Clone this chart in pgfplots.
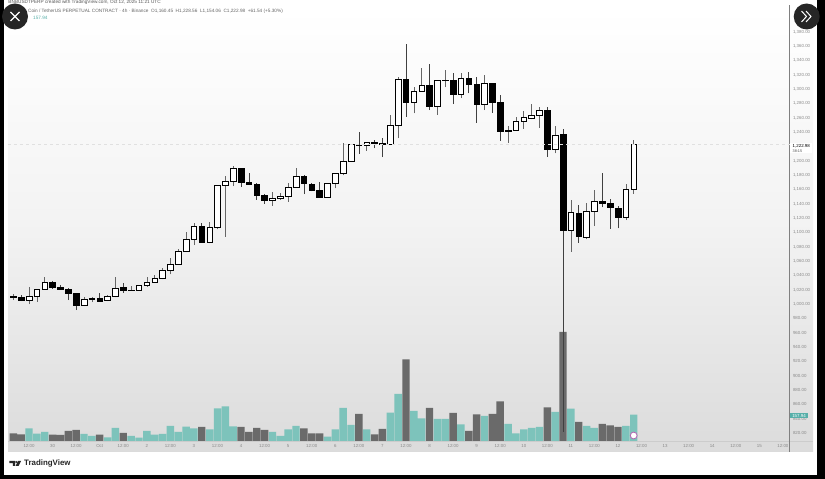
\documentclass[border=0pt]{standalone}
\usepackage{pgfplots}
\usepackage{pgfplotstable}
\usepackage{fontspec}
\setmainfont{Liberation Sans}
\pgfplotsset{compat=1.18}
\definecolor{teal1}{HTML}{7DC3BB}
\definecolor{dark1}{HTML}{6A6A6A}
\definecolor{txt}{HTML}{8A8A8A}
\pgfplotstableread{
i o h l c
0 1009.6 1014.1 1005.7 1010.2
1 1009.5 1012.7 1004.3 1004.7
2 1004.7 1024.3 1000.1 1010.3
3 1010.3 1021.1 1003.3 1020.6
4 1020.6 1037.4 1020.6 1030.4
5 1029.9 1032.7 1021.1 1022.9
6 1023.4 1027.1 1019.7 1020.1
7 1020.6 1022.0 1005.7 1014.5
8 1015.1 1015.9 991.7 998.3
9 997.7 1009.5 997.3 1007.1
10 1006.7 1010.3 1002.9 1007.5
11 1008.1 1015.9 1003.3 1004.3
12 1004.7 1012.7 1004.3 1010.3
13 1010.3 1037.4 1009.5 1022.5
14 1022.9 1029.0 1015.9 1019.2
15 1018.7 1025.7 1018.3 1019.2
16 1019.2 1026.7 1018.7 1025.7
17 1025.7 1038.2 1024.3 1030.4
18 1030.4 1040.6 1029.9 1036.0
19 1035.4 1050.8 1034.6 1047.2
20 1047.2 1063.9 1041.6 1055.6
21 1055.6 1076.9 1055.0 1073.7
22 1073.7 1100.2 1072.7 1090.5
23 1090.5 1112.8 1082.5 1108.6
24 1108.1 1112.8 1085.7 1086.3
25 1086.3 1115.0 1084.9 1107.2
26 1106.7 1166.3 1104.4 1165.9
27 1165.9 1178.9 1094.1 1171.5
28 1171.5 1192.8 1164.9 1189.6
29 1190.0 1190.5 1163.9 1170.5
30 1170.5 1182.7 1166.3 1166.7
31 1166.7 1168.7 1145.4 1152.3
32 1152.3 1153.7 1139.8 1144.9
33 1144.9 1157.0 1137.0 1148.2
34 1147.2 1155.6 1145.4 1150.0
35 1150.0 1169.5 1143.0 1163.1
36 1163.1 1189.6 1162.5 1177.9
37 1177.9 1180.3 1153.7 1168.1
38 1167.7 1168.7 1157.5 1158.4
39 1158.4 1170.1 1148.2 1149.6
40 1149.6 1168.7 1149.1 1168.1
41 1168.1 1183.5 1161.7 1182.7
42 1182.7 1225.4 1179.9 1198.9
43 1198.9 1223.2 1198.4 1222.6
44 1222.2 1239.9 1209.6 1221.2
45 1221.8 1226.8 1214.2 1226.0
46 1225.4 1229.2 1217.6 1224.0
47 1225.0 1232.0 1205.4 1223.6
48 1223.2 1264.0 1222.2 1250.1
49 1250.1 1317.6 1231.5 1313.9
50 1313.9 1362.8 1261.7 1281.2
51 1281.2 1303.6 1266.4 1297.1
52 1297.1 1329.3 1296.6 1305.5
53 1305.0 1335.3 1271.0 1275.7
54 1275.7 1312.9 1264.1 1312.5
55 1312.0 1326.9 1302.8 1312.9
56 1312.9 1322.3 1279.4 1293.0
57 1293.0 1323.2 1287.8 1315.3
58 1315.3 1324.6 1294.4 1306.4
59 1306.4 1317.6 1253.3 1278.5
60 1278.5 1319.9 1271.0 1308.4
61 1308.4 1309.2 1267.3 1281.2
62 1281.2 1292.0 1227.8 1240.7
63 1240.7 1248.7 1225.4 1242.7
64 1242.7 1260.9 1242.2 1255.3
65 1255.3 1270.1 1244.9 1260.3
66 1259.9 1279.0 1258.1 1263.7
67 1263.7 1274.8 1246.3 1271.0
68 1271.0 1275.7 1205.8 1216.2
69 1216.2 1248.7 1210.6 1236.1
70 1236.6 1244.1 821.4 1102.5
71 1103.0 1145.4 1073.2 1128.2
72 1126.8 1138.4 1085.7 1094.7
73 1093.7 1141.6 1090.5 1129.6
74 1129.6 1159.3 1109.0 1143.0
75 1143.0 1183.5 1135.2 1140.8
76 1141.2 1146.8 1104.9 1134.6
77 1134.2 1137.0 1105.8 1120.6
78 1121.2 1167.3 1117.4 1160.3
79 1160.3 1228.56 1154.06 1222.98
}\candles
\pgfplotstablegetrowsof{\candles}
\pgfmathtruncatemacro\lastrow{\pgfplotsretval-1}
\pgfplotstableread{
x v
2 76
3 44
4 54
9 42
10 30
12 22
13 78
15 30
16 20
17 60
18 38
19 42
20 90
21 54
22 86
23 76
25 70
26 196
27 208
28 88
33 54
34 30
35 70
36 90
40 26
41 70
42 198
43 96
45 70
48 170
49 282
51 180
52 136
54 132
55 132
57 100
60 150
63 102
64 46
65 70
66 78
67 84
69 174
71 194
73 90
74 78
78 90
79 157.94
}\volup
\pgfplotstableread{
x v
0 46
1 40
5 38
6 36
7 60
8 66
11 38
14 48
24 84
29 84
30 54
31 78
32 66
37 76
38 46
39 46
44 162
46 40
47 72
50 490
53 198
56 168
58 60
59 160
61 162
62 238
68 202
70 654
72 114
75 102
76 94
77 84
}\voldown
\pgfplotsset{common/.style={
  at={(8pt,38pt)}, anchor=south west, scale only axis,
  width=781.5pt, height=431pt, xmin=-0.675, xmax=98.84}}
\begin{document}
\begin{tikzpicture}[x=1pt,y=1pt]
\fill[black] (0,0) rectangle (825,479);
\useasboundingbox (0,0) rectangle (825,479);
\fill[white] (4,4) rectangle (817,479);
\shade[top color=white,bottom color=black!14,middle color=black!5] (8,27) rectangle (813,470);
\draw[black!20,line width=.5pt] (8,38) -- (813,38);
\draw[black!50,line width=.7pt] (789.5,27) -- (789.5,474);
% volume
\begin{axis}[common, hide axis, ymin=0, ymax=2586]
\addplot[ybar, bar width=7.4pt, bar shift=0pt, fill=teal1, draw=none] table[x=x,y=v] {\volup};
\addplot[ybar, bar width=7.4pt, bar shift=0pt, fill=dark1, draw=none] table[x=x,y=v] {\voldown};
\addplot[only marks, mark=*, mark size=3.4pt, mark options={fill=white,draw=violet!60,line width=.8pt}] coordinates {(79,33)} node[pos=0,font=\fontsize{3.5}{4}\selectfont,text=violet!70] {D};
\end{axis}
% price
\begin{axis}[common, ymin=808.8, ymax=1410.7,
  axis line style={draw=none}, major tick length=0pt,
  tick style={draw=none},
  yticklabel pos=right,
  ytick={820,840,...,1380},
  xtick={2,5,...,98},
  xticklabels={12:00,30,12:00,Oct,12:00,2,12:00,3,12:00,4,12:00,5,12:00,6,12:00,7,12:00,8,12:00,9,12:00,10,12:00,11,12:00,12,12:00,13,12:00,14,12:00,15,12:00},
  scaled y ticks=false,
  tick label style={font=\fontsize{4.4}{5}\selectfont, text=txt},
  yticklabel style={/pgf/number format/.cd, fixed, fixed zerofill, precision=2, 1000 sep={,}, assume math mode=true},
  xticklabel style={yshift=-0.3pt},
  clip=false]
\pgfplotsforeachungrouped \r in {0,...,\lastrow}{%
  \pgfplotstablegetelem{\r}{i}\of\candles \let\vi=\pgfplotsretval
  \pgfplotstablegetelem{\r}{o}\of\candles \let\vo=\pgfplotsretval
  \pgfplotstablegetelem{\r}{h}\of\candles \let\vh=\pgfplotsretval
  \pgfplotstablegetelem{\r}{l}\of\candles \let\vl=\pgfplotsretval
  \pgfplotstablegetelem{\r}{c}\of\candles \let\vc=\pgfplotsretval
  \pgfmathsetmacro\xa{\vi-0.36}
  \pgfmathsetmacro\xb{\vi+0.36}
  \ifdim\vc pt>\vo pt
    \def\fc{white}\def\wc{black!60}
  \else
    \def\fc{black}\def\wc{black!75}
  \fi
  \edef\temp{%
    \noexpand\addplot[draw=\wc, line width=.6pt, forget plot] coordinates {(\vi,\vl)(\vi,\vh)};
    \noexpand\addplot[draw=black, fill=\fc, line width=.6pt, forget plot] coordinates {(\xa,\vo)(\xb,\vo)(\xb,\vc)(\xa,\vc)} -- cycle;
  }\temp
}
\addplot[black!12, line width=.4pt, dashed, forget plot] coordinates {(-0.675,1222.98)(98.84,1222.98)};
\end{axis}
% price and volume tags
\fill[white] (790,326) rectangle (811.5,335.5);
\node[anchor=west,inner sep=0,font=\fontsize{4.4}{5}\selectfont] at (792.5,333) {1,222.98};
\node[anchor=west,inner sep=0,font=\fontsize{3.8}{4}\selectfont,text=black!70] at (792.5,328.3) {38:15};
\fill[teal1!70!teal] (790,60.7) rectangle (808,66.3);
\node[anchor=center,inner sep=0,font=\fontsize{4.4}{5}\selectfont,text=white] at (799,63.5) {157.94};
% header
\node[anchor=west,inner sep=0,font=\fontsize{4.7}{5}\selectfont,text=black!65] at (8.3,477) {BNBUSDTPERP created with TradingView.com, Oct 12, 2025 11:21 UTC};
\node[anchor=west,inner sep=0,font=\fontsize{4.7}{5}\selectfont,text=black!60] at (17,467.5) {BNB Coin / TetherUS PERPETUAL CONTRACT · 4h · Binance\ \ O1,160.45\ \ H1,228.56\ \ L1,154.06\ \ C1,222.98\ \ +61.54 (+5.30\%)};
\node[anchor=west,inner sep=0,font=\fontsize{4.7}{5}\selectfont,text=teal1!70!teal] at (33,461) {157.94};
% buttons
\fill[black!85] (15,462.5) circle (13);
\draw[white,line width=1.3pt] (10.5,458) -- (19.5,467) (10.5,467) -- (19.5,458);
\fill[black!85] (806.7,462.5) circle (13);
\draw[white,line width=1pt] (801.5,468) -- (806.5,462.5) -- (801.5,457) (806,468) -- (811,462.5) -- (806,457);
% logo
\fill[black!85] (9.3,18.2) -- (15.2,18.2) -- (15.2,13) -- (12.8,13) -- (12.8,15.8) -- (9.3,15.8) -- cycle;
\fill[black!85] (16.2,17) circle (1.1);
\fill[black!85] (18,18.2) -- (21.2,18.2) -- (18.5,13) -- (15.6,13) -- cycle;
\node[anchor=west,inner sep=0,font=\fontsize{7.9}{9}\selectfont\bfseries,text=black!85] at (24,15.8) {TradingView};
\end{tikzpicture}
\end{document}
